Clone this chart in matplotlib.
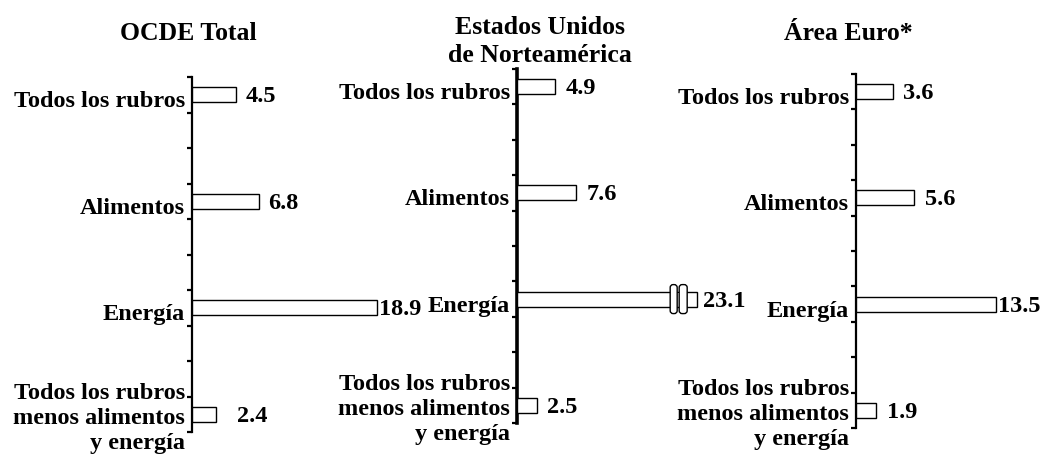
import numpy as np
import matplotlib
matplotlib.use('Agg')
import matplotlib.pyplot as plt
from matplotlib.patches import FancyBboxPatch, Rectangle
from matplotlib.transforms import IdentityTransform

plt.rcParams['font.family'] = ['Liberation Serif', 'DejaVu Serif']
plt.rcParams['font.weight'] = 'bold'

# data (variación % anual)
categorias = ['Todos los rubros', 'Alimentos', 'Energía',
              'Todos los rubros\nmenos alimentos\ny energía']
ocde = [4.5, 6.8, 18.9, 2.4]
eeuu = [4.9, 7.6, 23.1, 2.5]
euro = [3.6, 5.6, 13.5, 1.9]
titulos = ['OCDE Total', 'Estados Unidos\nde Norteamérica', 'Área Euro*']
etiquetas = [['4.5', '6.8', '18.9', '2.4'],
             ['4.9', '7.6', '23.1', '2.5'],
             ['3.6', '5.6', '13.5', '1.9']]

W, H = 1040, 458
fig = plt.figure(figsize=(W / 100, H / 100), dpi=100)

# layout of each panel in pixels: spine x, top, bottom, px per unit, width, spine lw
paneles = [
    dict(x0=192, top=77, bot=432, ppu=9.8, ancho=200, lw=1.6, gaps=[10, 9, 2, 21],
         tx=188, ty=40, corte=None),
    dict(x0=517, top=69, bot=423, ppu=7.8, ancho=190, lw=2.6, gaps=[10, 10, 6, 10],
         tx=540, ty=62, corte=2),
    dict(x0=856, top=74, bot=428, ppu=10.4, ancho=184, lw=1.6, gaps=[10, 11, 2, 11],
         tx=848, ty=40, corte=None),
]
series = [ocde, eeuu, euro]
pos = np.arange(len(categorias)) * 3 + 0.5
px = 0.72  # points per pixel at dpi 100
fs = 17.5

for p, vals, labs, tit in zip(paneles, series, etiquetas, titulos):
    ax = fig.add_axes([p['x0'] / W, (H - p['bot']) / H, p['ancho'] / W, (p['bot'] - p['top']) / H])
    ax.set_xlim(0, p['ancho'] / p['ppu'])
    ax.set_ylim(10, 0)
    ax.patch.set_visible(False)
    for s in ['top', 'right', 'bottom']:
        ax.spines[s].set_visible(False)
    ax.spines['left'].set_linewidth(p['lw'])
    ax.set_yticks(np.arange(0, 11))
    ax.set_yticklabels([])
    ax.tick_params(axis='y', direction='out', length=3.5, width=1.6)
    ax.set_xticks([])

    ax.barh(pos, vals, height=0.42, color='white', edgecolor='black', linewidth=1.0, zorder=3)

    for y, v, lab, g in zip(pos, vals, labs, p['gaps']):
        ax.annotate(lab, (v, y), xytext=(g * px, -2 * px), textcoords='offset points',
                    ha='left', va='center', fontsize=fs, fontweight='bold', annotation_clip=False)

    for y, c in zip(pos, categorias):
        if '\n' in c:
            dy = -35
        else:
            dy = -12.5
        ax.annotate(c, (0, y), xytext=(-7 * px, dy * px), textcoords='offset points',
                    ha='right', va='baseline', multialignment='right', fontsize=fs,
                    fontweight='bold', linespacing=1.25, annotation_clip=False)

    fig.text(p['tx'] / W, (H - p['ty']) / H, tit, ha='center', va='baseline',
             multialignment='center', fontsize=18.5, fontweight='bold', linespacing=1.3)

    # broken bar for the value that runs off the scale (drawn in pixels)
    if p['corte'] is not None:
        i = p['corte']
        fig.canvas.draw()
        xe, yc = ax.transData.transform((vals[i], pos[i]))
        ax.add_patch(Rectangle((xe - 27, yc - 6.5), 17, 13, facecolor='white', edgecolor='none',
                               transform=IdentityTransform(), zorder=4, clip_on=False))
        for x1, w in [(-27, 7), (-18, 8)]:
            ax.add_patch(FancyBboxPatch((xe + x1, yc - 14.5), w, 29,
                                        boxstyle='round,pad=0,rounding_size=3',
                                        facecolor='white', edgecolor='black', linewidth=1.0,
                                        transform=IdentityTransform(), zorder=5, clip_on=False))

fig.savefig('out.png', dpi=100)
